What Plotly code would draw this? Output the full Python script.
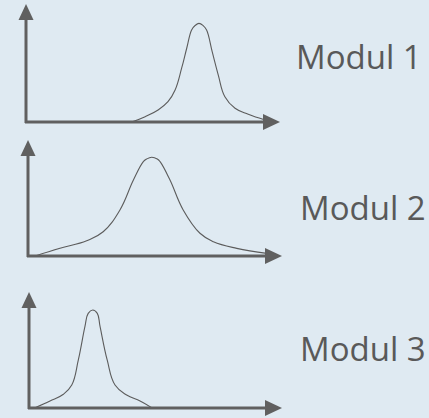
import plotly.graph_objects as go

W, H = 429, 418

# curve samples (x along axis 0-10, y height 0-10)
mod1_x = [4.16, 4.69, 5.20, 5.59, 5.87, 6.13, 6.33, 6.52, 6.65, 6.81, 6.98, 7.11, 7.33, 7.57, 7.83, 8.23, 8.75, 9.41]
mod1_y = [0.00, 0.45, 1.02, 1.72, 2.71, 4.58, 6.27, 7.80, 8.16, 8.36, 8.16, 7.80, 5.96, 3.98, 2.14, 1.16, 0.65, 0.17]

mod2_x = [0.28, 1.26, 2.31, 2.96, 3.62, 4.15, 4.54, 4.67, 4.87, 5.09, 5.20, 5.59, 6.11, 6.77, 7.30, 8.22, 9.40]
mod2_y = [0.00, 0.66, 1.32, 2.09, 3.97, 6.55, 8.13, 8.36, 8.51, 8.36, 8.13, 6.55, 3.97, 1.96, 1.23, 0.66, 0.23]

mod3_x = [0.24, 0.83, 1.36, 1.69, 1.95, 2.21, 2.34, 2.52, 2.70, 2.81, 3.09, 3.40, 3.86, 4.39, 4.85]
mod3_y = [0.03, 0.60, 1.18, 1.98, 4.14, 7.01, 8.16, 8.45, 8.16, 7.01, 4.14, 1.98, 1.12, 0.60, 0.03]

labels = ["Modul 1", "Modul 2", "Modul 3"]
series = [(mod1_x, mod1_y), (mod2_x, mod2_y), (mod3_x, mod3_y)]

# pixel frames of each little chart: origin x, arrow tip x, baseline y, arrow tip y
frames = [(26, 280, 122, 4), (28, 282, 256, 140), (29, 282, 408, 292)]
label_pos = [(294, 56), (298, 208), (298, 348)]

AX = "#606060"
BG = "#dfeaf2"


def px(x):
    return x / W


def py(y):
    return 1 - y / H


fig = go.Figure()
shapes = []
annotations = []

for i, ((xs, ys), (x0, xt, y0, yt)) in enumerate(zip(series, frames)):
    n = "" if i == 0 else str(i + 1)
    fig.add_trace(go.Scatter(x=xs, y=ys, mode="lines",
                             line=dict(color="#5c5c5c", width=1.1, shape="spline", smoothing=1.2),
                             xaxis="x" + n, yaxis="y" + n, showlegend=False, hoverinfo="skip"))
    fig.layout["xaxis" + n] = dict(domain=[px(x0), px(xt)], range=[0, 10], visible=False, anchor="y" + n, fixedrange=True)
    fig.layout["yaxis" + n] = dict(domain=[py(y0), py(yt)], range=[0, 10], visible=False, anchor="x" + n, fixedrange=True)

    # axis shafts
    shapes.append(dict(type="line", xref="paper", yref="paper", x0=px(x0), x1=px(x0), y0=py(y0 + 1), y1=py(yt + 14),
                       line=dict(color=AX, width=3)))
    shapes.append(dict(type="line", xref="paper", yref="paper", x0=px(x0 - 1), x1=px(xt - 15), y0=py(y0), y1=py(y0),
                       line=dict(color=AX, width=3)))
    # arrow heads
    shapes.append(dict(type="path", xref="paper", yref="paper",
                       path=f"M {px(x0)},{py(yt)} L {px(x0 - 7.5)},{py(yt + 16)} L {px(x0 + 7.5)},{py(yt + 16)} Z",
                       fillcolor=AX, line=dict(width=0)))
    shapes.append(dict(type="path", xref="paper", yref="paper",
                       path=f"M {px(xt)},{py(y0)} L {px(xt - 17)},{py(y0 - 8)} L {px(xt - 17)},{py(y0 + 8)} Z",
                       fillcolor=AX, line=dict(width=0)))

    lx, ly = label_pos[i]
    annotations.append(dict(text=labels[i], xref="paper", yref="paper", x=px(lx), y=py(ly),
                            xanchor="left", yanchor="middle", showarrow=False,
                            font=dict(family="Open Sans", size=33, color="#595959")))

fig.update_layout(width=W, height=H, margin=dict(l=0, r=0, t=0, b=0),
                  paper_bgcolor=BG, plot_bgcolor=BG, shapes=shapes, annotations=annotations)

fig.write_html("out.html", config={"displayModeBar": False},
               post_script="document.body.style.margin='0';document.body.style.background='%s';" % BG)
